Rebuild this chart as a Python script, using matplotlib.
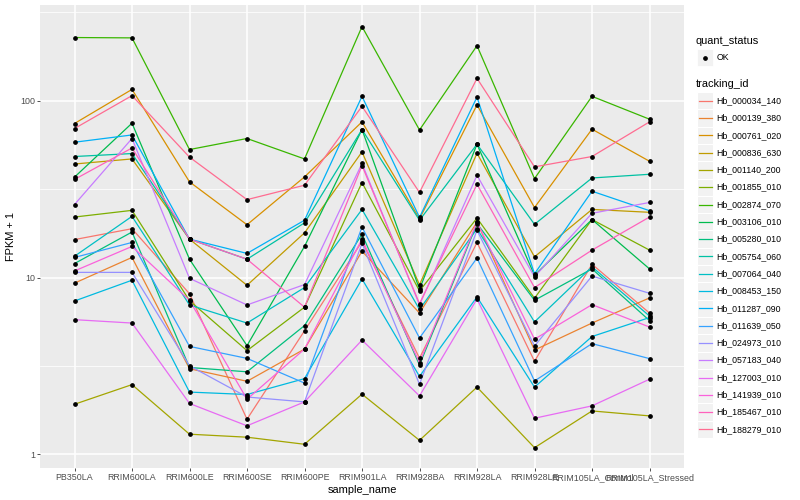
import matplotlib
matplotlib.use('Agg')
import matplotlib.pyplot as plt
from matplotlib.lines import Line2D
from matplotlib.patches import Rectangle
import numpy as np

plt.rcParams['font.family'] = ['Liberation Sans', 'DejaVu Sans']

samples = ['PB350LA', 'RRIM600LA', 'RRIM600LE', 'RRIM600SE', 'RRIM600PE', 'RRIM901LA',
           'RRIM928BA', 'RRIM928LA', 'RRIM928LE', 'RRIM105LA_Control', 'RRIM105LA_Stressed']

tracking_ids = ['Hb_000034_140', 'Hb_000139_380', 'Hb_000761_020', 'Hb_000836_630',
                'Hb_001140_200', 'Hb_001855_010', 'Hb_002874_070', 'Hb_003106_010',
                'Hb_005280_010', 'Hb_005754_060', 'Hb_007064_040', 'Hb_008453_150',
                'Hb_011287_090', 'Hb_011639_050', 'Hb_024973_010', 'Hb_057183_040',
                'Hb_127003_010', 'Hb_141939_010', 'Hb_185467_010', 'Hb_188279_010']

# FPKM + 1 per sample
hb_000034_140 = [16.4, 18.9, 8.1, 1.58, 5.0, 16.0, 3.5, 15.8, 3.36, 11.9, 6.3]
hb_000139_380 = [9.3, 13.0, 3.05, 2.59, 3.94, 14.1, 6.3, 20.6, 3.89, 5.53, 7.67]
hb_000761_020 = [74.4, 116, 34.8, 19.9, 37.1, 76.0, 21.5, 94.8, 24.9, 69.1, 45.5]
hb_000836_630 = [43.9, 46.9, 16.5, 9.04, 17.9, 51.4, 9.1, 50.5, 13.1, 24.3, 23.4]
hb_001140_200 = [1.92, 2.48, 1.30, 1.25, 1.14, 2.19, 1.20, 2.40, 1.09, 1.76, 1.65]
hb_001855_010 = [22.0, 24.0, 7.4, 3.86, 6.8, 34.5, 8.4, 21.7, 7.64, 21.3, 14.3]
hb_002874_070 = [228, 227, 53.0, 61.2, 46.9, 263, 68.4, 205, 36.3, 106, 78.7]
hb_003106_010 = [37.0, 74.7, 12.7, 4.12, 15.0, 68.8, 8.6, 56.8, 10.3, 21.3, 11.2]
hb_005280_010 = [12.0, 18.1, 3.1, 2.93, 5.35, 17.6, 3.2, 20.2, 7.44, 11.2, 5.71]
hb_005754_060 = [48.4, 50.3, 16.5, 12.7, 20.4, 68.8, 21.1, 56.8, 20.0, 36.6, 38.4]
hb_007064_040 = [13.2, 22.2, 7.0, 5.53, 8.78, 24.3, 6.6, 18.9, 5.61, 11.5, 6.06]
hb_008453_150 = [7.37, 9.66, 2.25, 2.18, 2.68, 9.82, 2.76, 7.77, 2.40, 4.64, 5.94]
hb_011287_090 = [58.3, 64.1, 16.5, 13.7, 21.1, 106, 21.9, 105, 10.5, 30.8, 23.9]
hb_011639_050 = [13.0, 15.8, 4.08, 3.49, 2.53, 19.3, 4.55, 12.9, 2.60, 4.23, 3.48]
hb_024973_010 = [10.7, 10.7, 3.17, 2.11, 1.98, 15.6, 2.49, 18.5, 4.10, 10.2, 8.15]
hb_057183_040 = [25.9, 61.2, 9.9, 7.0, 9.13, 44.2, 7.0, 37.9, 10.1, 23.1, 26.6]
hb_127003_010 = [5.78, 5.53, 1.94, 1.45, 1.98, 4.43, 2.14, 7.57, 1.60, 1.88, 2.66]
hb_141939_010 = [10.9, 15.0, 7.44, 2.05, 3.94, 16.5, 3.3, 20.6, 4.48, 7.03, 5.25]
hb_185467_010 = [35.9, 54.1, 16.5, 12.7, 6.8, 43.0, 7.13, 33.7, 8.78, 14.3, 22.0]
hb_188279_010 = [69.7, 107, 48.0, 27.6, 33.3, 93.1, 30.3, 134, 42.3, 48.4, 76.0]

series = [hb_000034_140, hb_000139_380, hb_000761_020, hb_000836_630, hb_001140_200,
          hb_001855_010, hb_002874_070, hb_003106_010, hb_005280_010, hb_005754_060,
          hb_007064_040, hb_008453_150, hb_011287_090, hb_011639_050, hb_024973_010,
          hb_057183_040, hb_127003_010, hb_141939_010, hb_185467_010, hb_188279_010]

# ggplot2 default hue palette for 20 groups
colors = ['#F8766D', '#EA8331', '#D89000', '#C09B00', '#A3A500', '#7CAE00', '#39B600',
          '#00BB4E', '#00BF7D', '#00C1A3', '#00BFC4', '#00BAE0', '#00B0F6', '#35A2FF',
          '#9590FF', '#C77CFF', '#E76BF3', '#FA62DB', '#FF62BC', '#FF6C91']

W, H = 800, 500
fig = plt.figure(figsize=(8, 5), dpi=100)
fig.patch.set_facecolor('white')

# panel box in pixels
px_l, px_r, px_t, px_b = 40, 684, 5, 468.3
ax = fig.add_axes([px_l / W, 1 - px_b / H, (px_r - px_l) / W, (px_b - px_t) / H])
ax.set_facecolor('#EBEBEB')
for s in ax.spines.values():
    s.set_visible(False)

x = np.arange(len(samples))
ax.set_yscale('log')
ax.set_xlim(-0.6, len(samples) - 1 + 0.6)
ax.set_ylim(10 ** -0.079, 10 ** 2.542)

# grid like theme_grey
for v in [10 ** 0.5, 10 ** 1.5, 10 ** 2.5]:
    ax.axhline(v, color='white', lw=0.55, zorder=0)
for v in [1, 10, 100]:
    ax.axhline(v, color='white', lw=1.1, zorder=0)
for xi in x:
    ax.axvline(xi, color='white', lw=1.1, zorder=0)

for vals, col in zip(series, colors):
    ax.plot(x, vals, color=col, lw=0.9, zorder=2, solid_capstyle='butt')
for vals in series:
    ax.plot(x, vals, ls='none', marker='o', ms=2.4, color='black', zorder=3)

ax.set_xticks(x)
ax.set_xticklabels(samples)
ax.set_yticks([1, 10, 100])
ax.set_yticklabels(['1', '10', '100'])
ax.yaxis.set_minor_locator(matplotlib.ticker.NullLocator())
ax.tick_params(axis='both', length=2.0, width=0.6, color='#333333', labelcolor='#4D4D4D',
               labelsize=6.4, pad=1.6)
ax.set_xlabel('sample_name', fontsize=7.9, color='black', labelpad=2)
ax.set_ylabel('FPKM + 1', fontsize=7.9, color='black', labelpad=3)


def fx(px):
    return px / W


def fy(py):
    return 1 - py / H


# legend: quant_status
fig.text(fx(696), fy(40.7), 'quant_status', fontsize=7.9, va='center', ha='left')
fig.patches.append(Rectangle((fx(697), fy(65.5)), fx(16), 16.5 / H, transform=fig.transFigure,
                             facecolor='#F2F2F2', edgecolor='white', lw=0.6))
fig.add_artist(Line2D([fx(705)], [fy(57.5)], marker='o', ms=2.4, color='black', ls='none',
                      transform=fig.transFigure))
fig.text(fx(716.7), fy(57.5), 'OK', fontsize=6.3, va='center', ha='left')

# legend: tracking_id
fig.text(fx(696), fy(84.3), 'tracking_id', fontsize=7.9, va='center', ha='left')
step = 17.3
for i, (tid, col) in enumerate(zip(tracking_ids, colors)):
    cy = 100.7 + i * step
    fig.patches.append(Rectangle((fx(697), fy(cy + step / 2)), fx(16), step / H,
                                 transform=fig.transFigure, facecolor='#F2F2F2',
                                 edgecolor='white', lw=0.8))
    fig.add_artist(Line2D([fx(698.5), fx(711.5)], [fy(cy), fy(cy)], color=col, lw=0.9,
                          transform=fig.transFigure))
    fig.text(fx(716.7), fy(cy), tid, fontsize=6.3, va='center', ha='left')

fig.savefig('out.png', dpi=100)
